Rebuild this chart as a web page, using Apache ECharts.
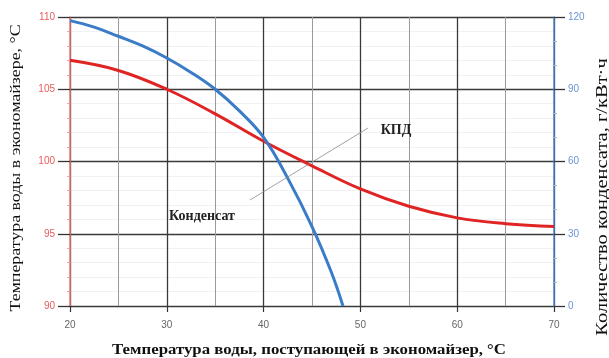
<!DOCTYPE html>
<html>
<head>
<meta charset="utf-8">
<script src="https://cdn.jsdelivr.net/npm/echarts@6/dist/echarts.min.js"></script>
<style>
  html, body { margin: 0; padding: 0; background: #fff; }
  #chart { width: 609px; height: 358px; }
</style>
</head>
<body>
<div id="chart"></div>
<script>
// Water temperature at the economizer inlet, °C
const inletTemp = [20, 25, 30, 35, 40, 45, 50, 55, 60, 65, 70];
// Water temperature in the economizer, °C (left axis)
const economizerTemp = [107.0, 106.3, 105.0, 103.3, 101.4, 99.7, 98.1, 96.9, 96.1, 95.7, 95.5];

// Condensate amount, g/kWh (right axis)
const condensateX = [20, 22.5, 25, 27.5, 30, 32.5, 35, 37.5, 40, 42.5, 45, 47, 48.2];
const condensate = [118.5, 115.8, 112, 108, 103, 97, 90, 81, 70, 53, 33, 14, 0];

const xTicks = { min: 20, max: 70, step: 10 };
const leftTicks = { min: 90, max: 110, step: 5 };
const rightTicks = { min: 0, max: 120, step: 30 };

const titleLeft = 'Температура воды в экономайзере, °С';
const titleRight = 'Количество конденсата, г/кВт·ч';
const titleBottom = 'Температура воды, поступающей в экономайзер, °С';
const labelEff = 'КПД';
const labelCond = 'Конденсат';

const chart = echarts.init(document.getElementById('chart'), null, { renderer: 'canvas' });

const serif = '"Liberation Serif", "DejaVu Serif", serif';
const sans = '"Liberation Sans", Arial, sans-serif';

chart.setOption({
  animation: false,
  backgroundColor: '#fff',
  grid: { left: 70, right: 55, top: 17, bottom: 52, containLabel: false },
  xAxis: {
    type: 'value',
    min: xTicks.min, max: xTicks.max, interval: xTicks.step,
    axisLine: { show: false },
    axisTick: { show: true, length: 6, lineStyle: { color: '#333', width: 1.2 } },
    axisLabel: { color: '#666', fontSize: 10, fontFamily: sans, margin: 14 },
    splitLine: { show: true, lineStyle: { color: '#3a3a3a', width: 1.3 } },
    minorTick: { show: false, splitNumber: 2 },
    minorSplitLine: { show: true, lineStyle: { color: '#9a9a9a', width: 1 } }
  },
  yAxis: [
    {
      type: 'value',
      min: leftTicks.min, max: leftTicks.max, interval: leftTicks.step,
      position: 'left',
      axisLine: { show: true, lineStyle: { color: '#f07a7a', width: 1.5 } },
      axisTick: { show: true, length: 12, lineStyle: { color: '#333', width: 1.3 } },
      axisLabel: { color: '#e85a5a', fontSize: 10, fontFamily: sans, margin: 15 },
      splitLine: { show: true, lineStyle: { color: '#3a3a3a', width: 1.3 } },
      minorTick: { show: true, splitNumber: 5, length: 3, lineStyle: { color: '#f2a0a0' } },
      minorSplitLine: { show: true, lineStyle: { color: '#f1f1f4', width: 1 } }
    },
    {
      type: 'value',
      min: rightTicks.min, max: rightTicks.max, interval: rightTicks.step,
      position: 'right',
      axisLine: { show: true, lineStyle: { color: '#4a86d0', width: 1.5 } },
      axisTick: { show: true, length: 11, lineStyle: { color: '#333', width: 1.3 } },
      axisLabel: { color: '#6a94d0', fontSize: 10, fontFamily: sans, margin: 14 },
      splitLine: { show: false },
      minorTick: { show: true, splitNumber: 3, length: 3, lineStyle: { color: '#9dbbe2' } }
    }
  ],
  series: [
    {
      name: 'temp',
      type: 'line',
      yAxisIndex: 0,
      smooth: 0.4,
      symbol: 'none',
      data: inletTemp.map((x, i) => [x, economizerTemp[i]]),
      lineStyle: { color: '#e02424', width: 3 },
      z: 3
    },
    {
      name: 'condensate',
      type: 'line',
      yAxisIndex: 1,
      smooth: 0.4,
      symbol: 'none',
      data: condensateX.map((x, i) => [x, condensate[i]]),
      lineStyle: { color: '#3a7cc8', width: 3 },
      z: 4
    }
  ],
  graphic: [
    {
      type: 'line',
      shape: { x1: 250, y1: 200, x2: 368, y2: 128 },
      style: { stroke: '#8a8a8a', lineWidth: 0.8 },
      z: 5
    },
    {
      type: 'text', x: 396, y: 130,
      style: { text: labelEff, fill: '#222', font: 'bold 14px ' + serif, textAlign: 'center', textVerticalAlign: 'middle' },
      z: 6
    },
    {
      type: 'text', x: 202, y: 216,
      style: { text: labelCond, fill: '#222', font: 'bold 14px ' + serif, textAlign: 'center', textVerticalAlign: 'middle' },
      z: 6
    },
    {
      type: 'text', x: 16, y: 168, rotation: Math.PI / 2, scaleX: 1.19,
      style: { text: titleLeft, fill: '#111', font: '15px ' + serif, textAlign: 'center', textVerticalAlign: 'middle' }
    },
    {
      type: 'text', x: 603, y: 197, rotation: Math.PI / 2, scaleX: 1.28,
      style: { text: titleRight, fill: '#111', font: '16px ' + serif, textAlign: 'center', textVerticalAlign: 'middle' }
    },
    {
      type: 'text', x: 309, y: 350, scaleX: 1.12,
      style: { text: titleBottom, fill: '#111', font: 'bold 15px ' + serif, textAlign: 'center', textVerticalAlign: 'middle' }
    }
  ]
});
</script>
</body>
</html>
